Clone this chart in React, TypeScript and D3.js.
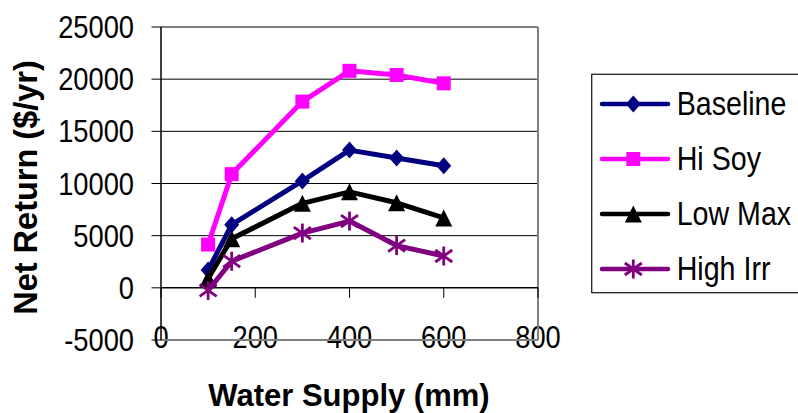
import React from 'react';
import * as d3 from 'd3';

const waterSupply = [100, 150, 300, 400, 500, 600];
const baseline = [1700, 6050, 10250, 13200, 12450, 11700];
const hiSoy = [4150, 10900, 17850, 20800, 20400, 19600];
const lowMax = [900, 4700, 8100, 9200, 8150, 6700];
const highIrr = [-250, 2550, 5250, 6400, 4050, 3050];
const seriesNames = ['Baseline', 'Hi Soy', 'Low Max', 'High Irr'];
const seriesColors = ['#000080', '#FF00FF', '#000000', '#800080'];
const seriesMarkers = ['diamond', 'square', 'triangle', 'star'];
const yTicks = [-5000, 0, 5000, 10000, 15000, 20000, 25000];
const xTicks = [0, 200, 400, 600, 800];

const FONT = '"Liberation Sans", Arial, sans-serif';
const SX = 0.88;

function Marker({ kind, x, y, color }: { kind: string; x: number; y: number; color: string }) {
  if (kind === 'diamond') {
    const rx = 7.5, ry = 8.5;
    return <path d={`M${x},${y - ry}L${x + rx},${y}L${x},${y + ry}L${x - rx},${y}Z`} fill={color} />;
  }
  if (kind === 'square') {
    const r = 7;
    return <rect x={x - r} y={y - r} width={2 * r} height={2 * r} fill={color} />;
  }
  if (kind === 'triangle') {
    const w = 8.5, h = 8.5;
    return <path d={`M${x},${y - h}L${x + w},${y + h}L${x - w},${y + h}Z`} fill={color} />;
  }
  const r = 9.5;
  const dx = 8.5, dy = 6;
  return (
    <g stroke={color} strokeWidth={2.8} strokeLinecap="butt">
      <line x1={x} y1={y - r} x2={x} y2={y + r} />
      <line x1={x - dx} y1={y - dy} x2={x + dx} y2={y + dy} />
      <line x1={x - dx} y1={y + dy} x2={x + dx} y2={y - dy} />
    </g>
  );
}

function SText({ x, y, anchor, size, children, weight }: any) {
  return (
    <text
      transform={`translate(${x},${y}) scale(${SX},1)`}
      textAnchor={anchor}
      fontSize={size}
      fontFamily={FONT}
      fontWeight={weight || 'normal'}
      fill="#000"
    >
      {children}
    </text>
  );
}

export default function App() {
  const W = 798, H = 413;
  const x = d3.scaleLinear().domain([0, 800]).range([161, 538]);
  const y = d3.scaleLinear().domain([-5000, 25000]).range([340, 27]);
  const series = [baseline, hiSoy, lowMax, highIrr];
  const line = d3
    .line<number>()
    .x((_, i) => x(waterSupply[i]))
    .y((v) => y(v));

  const left = x(0), right = x(800), top = y(25000), bottom = y(-5000), zeroY = y(0);

  const legendX = 591.7, legendY = 74.3;
  const legendRows = [104, 159, 214, 269];

  return (
    <svg width={W} height={H} style={{ position: 'absolute', left: 0, top: 0, background: '#fff' }}>
      <rect width={W} height={H} fill="#fff" />
      {/* gridlines */}
      {yTicks
        .filter((t) => t > 0 && t < 25000)
        .map((t) => (
          <line key={t} x1={left} x2={right} y1={y(t)} y2={y(t)} stroke="#000" strokeWidth={1} />
        ))}
      {/* y tick labels */}
      {yTicks.map((t) => (
        <SText key={t} x={134} y={y(t) + 11} anchor="end" size={31}>
          {String(t)}
        </SText>
      ))}
      {/* x tick labels */}
      {xTicks.map((t) => (
        <SText key={t} x={x(t)} y={348} anchor="middle" size={31}>
          {String(t)}
        </SText>
      ))}
      {/* plot border (gray) */}
      <line x1={left} x2={right} y1={top} y2={top} stroke="#808080" strokeWidth={2} />
      <line x1={right} x2={right} y1={top} y2={bottom} stroke="#808080" strokeWidth={2} />
      <line x1={left} x2={right} y1={bottom} y2={bottom} stroke="#808080" strokeWidth={2} />
      {/* y axis */}
      <line x1={left} x2={left} y1={top} y2={bottom} stroke="#000" strokeWidth={1.5} />
      {yTicks.map((t) => (
        <line key={t} x1={left - 9.5} x2={left} y1={y(t)} y2={y(t)} stroke="#000" strokeWidth={1} />
      ))}
      {/* x axis at zero */}
      <line x1={left} x2={right} y1={zeroY} y2={zeroY} stroke="#000" strokeWidth={1.5} />
      {xTicks.map((t) => (
        <line key={t} x1={x(t)} x2={x(t)} y1={zeroY} y2={zeroY + 10} stroke="#000" strokeWidth={1} />
      ))}
      {/* series */}
      {series.map((s, si) => (
        <g key={si}>
          <path d={line(s) || ''} fill="none" stroke={seriesColors[si]} strokeWidth={5} strokeLinejoin="round" />
          {s.map((v, i) => (
            <Marker key={i} kind={seriesMarkers[si]} x={x(waterSupply[i])} y={y(v)} color={seriesColors[si]} />
          ))}
        </g>
      ))}
      {/* axis titles */}
      <text x={349} y={405.5} textAnchor="middle" fontSize={31} fontWeight="bold" fontFamily={FONT}>
        Water Supply (mm)
      </text>
      <text
        transform="translate(37,187.5) rotate(-90)"
        textAnchor="middle"
        fontSize={32.5}
        fontWeight="bold"
        fontFamily={FONT}
      >
        Net Return ($/yr)
      </text>
      {/* legend */}
      <rect x={legendX} y={legendY} width={220} height={218.4} fill="#fff" stroke="#222" strokeWidth={1.3} />
      {seriesNames.map((n, i) => (
        <g key={n}>
          <line
            x1={602}
            x2={668}
            y1={legendRows[i]}
            y2={legendRows[i]}
            stroke={seriesColors[i]}
            strokeWidth={4.5}
            strokeLinecap="round"
          />
          <Marker kind={seriesMarkers[i]} x={633.3} y={legendRows[i]} color={seriesColors[i]} />
          <SText x={676.7} y={legendRows[i] + 10.5} anchor="start" size={32.5}>
            {n}
          </SText>
        </g>
      ))}
    </svg>
  );
}
